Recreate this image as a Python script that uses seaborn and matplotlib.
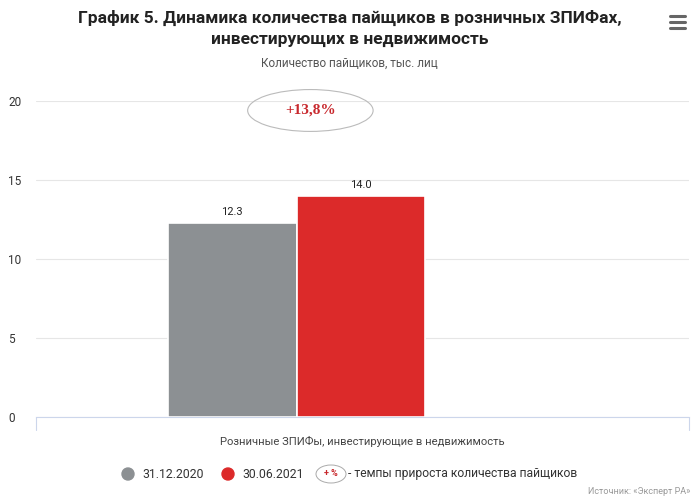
import pandas as pd
import numpy as np
import matplotlib
matplotlib.use("Agg")
import matplotlib.pyplot as plt
from matplotlib.patches import Ellipse
import seaborn as sns

# данные
category = ["Розничные ЗПИФы, инвестирующие в недвижимость"]
dates = ["31.12.2020", "30.06.2021"]
values = [12.3, 14.0]
growth_label = "+13,8%"
y_ticks = [0, 5, 10, 15, 20]
colors = ["#8c9093", "#dc2a2a"]

df = pd.DataFrame({"cat": category * 2, "date": dates, "value": values})

sns.set_theme(style="white")
plt.rcParams["font.family"] = ["Roboto", "DejaVu Sans"]

fig = plt.figure(figsize=(6.99, 5.04), dpi=100)
W, H = 699, 504
ax = fig.add_axes([36 / W, (H - 417) / H, (689 - 36) / W, (417 - 101) / H])

sns.barplot(
    data=df, x="cat", y="value", hue="date", palette=colors, saturation=1,
    width=0.8, edgecolor="white", linewidth=1.2, legend=False, ax=ax,
)

ax.set_xlim(-0.81, 1.22)
ax.set_ylim(0, 20)
ax.set_yticks(y_ticks)
ax.set_yticklabels([str(t) for t in y_ticks], fontsize=8.5, color="#333333")
ax.tick_params(axis="y", length=0, pad=20)
for lbl in ax.get_yticklabels():
    lbl.set_horizontalalignment("left")
ax.set_xticks([])
ax.set_xlabel("")
ax.set_ylabel("")
ax.grid(axis="y", color="#e6e6e6", linewidth=0.8)
ax.set_axisbelow(True)
for s in ["top", "right", "left"]:
    ax.spines[s].set_visible(False)
ax.spines["bottom"].set_color("#ccd6eb")
ax.spines["bottom"].set_linewidth(0.8)

# отметки границ категории
for xv in (-0.81, 1.22):
    ax.plot([xv, xv], [0, -0.8], color="#ccd6eb", lw=0.8, clip_on=False)

# подписи значений
for patch, v in zip(ax.patches, values):
    ax.text(patch.get_x() + patch.get_width() / 2, v + 0.35, f"{v:.1f}",
            ha="center", va="bottom", fontsize=8, color="#222222")

# эллипс с темпом прироста
ell = Ellipse((0.043, 19.4), 0.39, 2.65, fill=False, edgecolor="#bbbbbb",
              lw=0.8, clip_on=False, transform=ax.transData)
ax.add_patch(ell)
ax.text(0.043, 19.4, growth_label, ha="center", va="center", fontsize=11,
        fontweight="bold", color="#c8282d", family="Liberation Serif")

# заголовки
fig.text(0.5, 1 - 18 / H, "График 5. Динамика количества пайщиков в розничных ЗПИФах,",
         ha="center", va="center", fontsize=12.5, fontweight="bold", color="#222222")
fig.text(0.5, 1 - 40 / H, "инвестирующих в недвижимость",
         ha="center", va="center", fontsize=12.5, fontweight="bold", color="#222222")
fig.text(0.5, 1 - 63 / H, "Количество пайщиков, тыс. лиц",
         ha="center", va="center", fontsize=8.5, color="#555555")
fig.text(362 / W, 1 - 441 / H, category[0], ha="center", va="center",
         fontsize=8.1, color="#444444")

# иконка меню
for yy in (16, 22, 28):
    fig.add_artist(plt.Line2D([670 / W, 685 / W], [1 - yy / H] * 2,
                              color="#666666", lw=2.2))

# легенда
ly = 1 - 474 / H
for cx, tx, c, t in [(128, 142, colors[0], dates[0]), (228, 242, colors[1], dates[1])]:
    fig.add_artist(Ellipse((cx / W, ly), 12 / W, 12 / H, color=c,
                           transform=fig.transFigure))
    fig.text(tx / W, ly, t, ha="left", va="center", fontsize=8.8, color="#333333")
fig.add_artist(Ellipse((331 / W, ly), 30 / W, 18 / H, fill=False,
                       edgecolor="#aaaaaa", lw=0.7, transform=fig.transFigure))
fig.text(331 / W, ly, "+ %", ha="center", va="center", fontsize=6.5,
         fontweight="bold", color="#c8282d")
fig.text(348 / W, ly, "- темпы прироста количества пайщиков", ha="left",
         va="center", fontsize=8.7, color="#333333")

fig.text(690 / W, 1 - 492 / H, "Источник: «Эксперт РА»", ha="right",
         va="center", fontsize=6.5, color="#999999")

fig.savefig("out.png", dpi=100)
